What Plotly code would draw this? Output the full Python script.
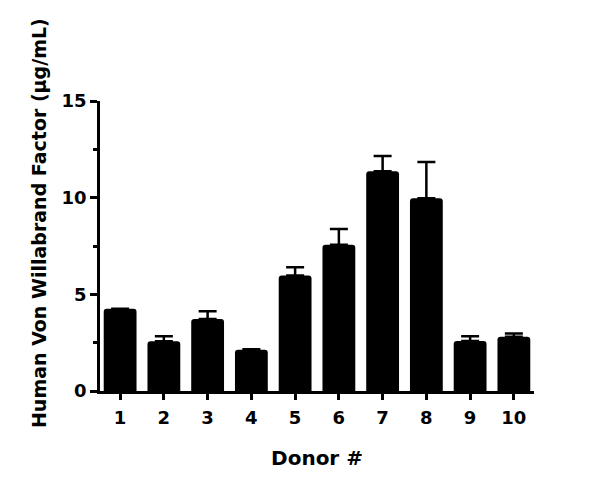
import plotly.graph_objects as go

donors = ["1", "2", "3", "4", "5", "6", "7", "8", "9", "10"]
mean_vwf = [4.25, 2.57, 3.73, 2.13, 5.97, 7.56, 11.37, 9.97, 2.59, 2.81]
err_up = [0.0, 0.26, 0.39, 0.03, 0.43, 0.82, 0.79, 1.88, 0.24, 0.16]

FONT = "DejaVu Sans"

# the page body adds an 8px margin, so the figure is drawn 8px smaller
fig = go.Figure()
fig.add_trace(go.Bar(
    x=donors, y=mean_vwf,
    marker=dict(color="black", line=dict(color="black", width=0), cornerradius=3),
    width=0.75,
    error_y=dict(type="data", symmetric=False, array=err_up,
                 arrayminus=[0] * len(err_up),
                 color="black", thickness=2.5, width=9),
))

fig.update_layout(
    width=592, height=485,
    margin=dict(l=92, r=66, t=93, b=102),
    plot_bgcolor="white", paper_bgcolor="white",
    showlegend=False,
    font=dict(family=FONT, color="black", size=17),
    xaxis=dict(
        type="category", range=[-0.46, 9.46],
        showline=True, linecolor="black", linewidth=2.5,
        ticks="outside", ticklen=6, tickwidth=2.5, tickcolor="black",
        ticklabelstandoff=3,
        tickfont=dict(family=FONT, size=18, weight="bold"),
        title=dict(text="Donor #", font=dict(family=FONT, size=20, weight="bold"),
                   standoff=24),
        showgrid=False, zeroline=False,
    ),
    yaxis=dict(
        range=[0, 15], tickvals=[0, 5, 10, 15],
        showline=True, linecolor="black", linewidth=2.5,
        ticks="outside", ticklen=7, tickwidth=2.5, tickcolor="black",
        minor=dict(tickvals=[2.5, 7.5, 12.5], ticks="outside", ticklen=4,
                   tickwidth=2.5, tickcolor="black"),
        tickfont=dict(family=FONT, size=18, weight="bold"),
        showgrid=False, zeroline=False,
    ),
)

fig.add_annotation(
    text="Human Von Willabrand Factor (μg/mL)",
    xref="paper", yref="paper", x=-0.14, y=0.58,
    textangle=-90, showarrow=False, xanchor="center", yanchor="middle",
    font=dict(family=FONT, size=19, weight="bold"),
)

fig.write_html("out.html")
